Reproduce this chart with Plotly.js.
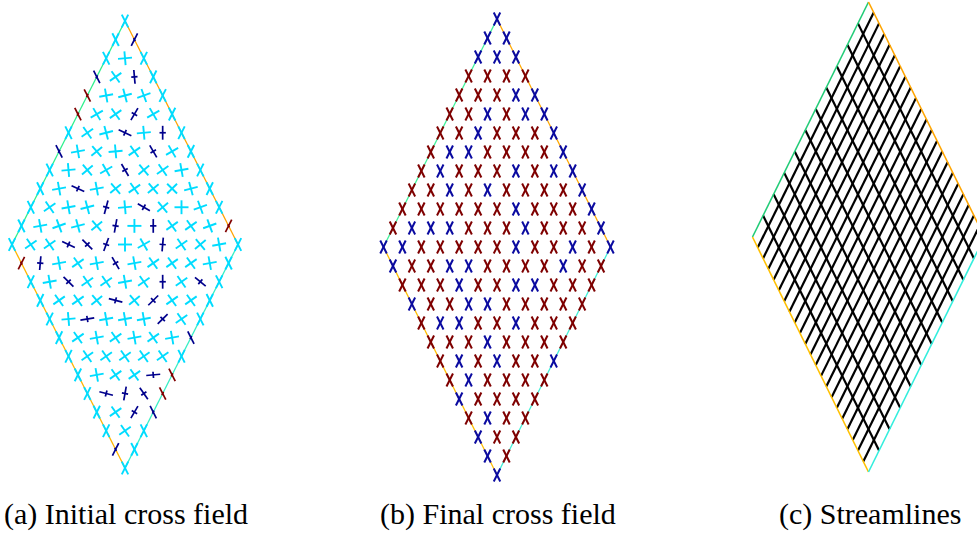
<!DOCTYPE html>
<html><head><meta charset="utf-8">
<script src="https://cdn.plot.ly/plotly-3.0.1.min.js"></script>
<style>html,body{margin:0;padding:0;background:#fff}#chart{width:977px;height:533px}</style>
</head><body><div id="chart"></div>
<script>
// ---------------- DATA ----------------
// Cross-field mesh: 13 x 13 vertices on the rhombus, listed row by row (top to bottom, left to right)
const meshDivisions = 12;
// (a) initial cross field: colour class per vertex (c = cyan, b = dark blue, r = dark red)
const initialColourRows = [
  "c","cb","ccc","bcbc","rcccc","rccbcc","cccbcbc","bccccbcc","ccccbcccc",
  "ccbccccccc","ccccbcbcccc","cccccbcbcccr","cccbbbccbcccc","rbcccbcccccc",
  "ccbccccbcbc","ccccbcbccc","ccbcccbcc","cccccccb","ccccccc","ccccbr",
  "cbbbr","ccbb","ccc","bc","c"
];
// (a) orientation (degrees) of interior crosses, rows 2..22 (interior vertices only)
const initialAngleRows = [
  [5],
  [35,95],
  [10,15,20],
  [30,35,60,30],
  [35,15,-25,5,90],
  [10,40,5,35,-60,30],
  [5,40,30,-60,40,35,10],
  [10,-25,10,40,35,40,45,15],
  [35,10,15,75,5,-30,40,0,20],
  [10,20,15,40,80,0,90,35,35,20],
  [35,35,-25,-45,70,0,30,85,35,40,10],
  [85,10,35,10,-60,10,35,35,35,10],
  [10,-45,35,35,10,35,90,35,-40],
  [35,35,40,-15,40,45,35,35],
  [5,10,10,10,10,45,35],
  [35,10,35,10,35,10],
  [35,35,35,35,35],
  [10,35,35,5],
  [-15,80,-55],
  [35,60],
  [35]
];
// (b) final cross field: colour class per vertex (r = dark red, b = blue)
const finalColourRows = [
  "b","bb","bbb","rrrr","rrrbb","rrbrbb","rrbrrrb","rbbrrrrb","rbrrrbrbb",
  "rrbrbrrrrb","rrrrrrbrrrb","rbbbrrrbrrrb","bbrrrrrbrrbrb","brrbbrrrrbrr",
  "rrrbrrbbrrr","brrbbrrrrr","rbbrrbrrr","rrrbrrrr","rbrbrrb","rbrrrr",
  "brrrr","rbrr","brr","br","b"
];
// (c) streamline seeds: fraction along the upper-right edge ("/" family) and upper-left edge ("\" family)
const seedsSlash = [0.045,0.091,0.136,0.182,0.227,0.273,0.318,0.364,0.409,0.455,0.5,
                    0.545,0.591,0.636,0.682,0.727,0.773,0.818,0.864,0.909,0.955];
const seedsBackslash = [0.091,0.182,0.273,0.364,0.455,0.545,0.636,0.727,0.818,0.909];
const captions = ["(a) Initial cross field","(b) Final cross field","(c) Streamlines"];

// ---------------- STYLE / LAYOUT ----------------
const W = 977, H = 533;
const placement = [
  {cx:125,   cy:244.5, sx:226, sy:223.5},
  {cx:497,   cy:247,   sx:227, sy:228},
  {cx:868.5, cy:237,   sx:232, sy:235}
];
const captionX = [126, 498, 870];
const edgeColours = [
  {tl:"#2ef08c", tr:"#ffa200", bl:"#ffb400", br:"#38eec4"},
  {tl:"#3ef29a", tr:"#ffa800", bl:"#ffbe00", br:"#40efd6"},
  {tl:"#22cc77", tr:"#ffa500", bl:"#ffc000", br:"#33eedd"}
];
const crossColour = {c:"#00dcff", b:"#00008c", r:"#800000"};
const finalColour = {r:"#7f0000", b:"#0a0aa0"};

// rhombus vertices (data units)
const T=[0,1], Lv=[-0.5,0], Rv=[0.5,0], Bv=[0,-1];
const n1 = norm([0.5,1]), n2 = norm([0.5,-1]); // "/" and "\" edge directions
function norm(v){const l=Math.hypot(v[0],v[1]);return [v[0]/l,v[1]/l];}
function vertex(r,k){
  let i,j;
  if(r<=meshDivisions){ i=r-k; j=k; } else { i=meshDivisions-k; j=r-meshDivisions+k; }
  const D=meshDivisions;
  return {i, j, x:0.5*(j-i)/D, y:1-(i+j)/D};
}
function seg(acc,p,d,h){
  acc.x.push(p[0]-d[0]*h,p[0]+d[0]*h,null);
  acc.y.push(p[1]-d[1]*h,p[1]+d[1]*h,null);
}
function dirDeg(a){const t=a*Math.PI/180;return [Math.cos(t),Math.sin(t)];}

const traces=[];
function edgeTraces(p,col){
  const ax = p===0?"":String(p+1);
  const e=[[T,Lv,col.tl],[T,Rv,col.tr],[Lv,Bv,col.bl],[Rv,Bv,col.br]];
  e.forEach(([a,b,c])=>traces.push({type:"scatter",mode:"lines",x:[a[0],b[0]],y:[a[1],b[1]],
    line:{color:c,width:p===2?1.6:1.3},xaxis:"x"+ax,yaxis:"y"+ax,hoverinfo:"skip"}));
}

// ---- panel (a)
edgeTraces(0,edgeColours[0]);
const accA={c:{x:[],y:[]},b:{x:[],y:[]},r:{x:[],y:[]}};
const hA=0.031, hX=0.032;
initialColourRows.forEach((row,r)=>{
  for(let k=0;k<row.length;k++){
    const v=vertex(r,k), p=[v.x,v.y], c=row[k], acc=accA[c];
    const D=meshDivisions;
    const onSlashEdge = (v.j===0||v.j===D), onBackEdge=(v.i===0||v.i===D);
    if(onSlashEdge||onBackEdge){
      if(c==="c" || (onSlashEdge&&onBackEdge)){ seg(acc,p,n1,hX); seg(acc,p,n2,hX); }
      else if(onSlashEdge){ seg(acc,p,n2,hA); seg(acc,p,n1,0.008); }
      else { seg(acc,p,n1,hA); seg(acc,p,n2,0.008); }
    } else {
      const a=initialAngleRows[r-2][k-1];
      seg(acc,p,dirDeg(a),hA);
      seg(acc,p,dirDeg(a+90), c==="c"?hA:hA*0.45);
    }
  }
});
["c","b","r"].forEach(c=>traces.push({type:"scatter",mode:"lines",x:accA[c].x,y:accA[c].y,
  line:{color:crossColour[c],width:c==="c"?1.9:1.7},xaxis:"x",yaxis:"y",hoverinfo:"skip"}));

// ---- panel (b)
edgeTraces(1,edgeColours[1]);
const accB={r:{x:[],y:[]},b:{x:[],y:[]}};
finalColourRows.forEach((row,r)=>{
  for(let k=0;k<row.length;k++){
    const v=vertex(r,k), p=[v.x,v.y], acc=accB[row[k]];
    seg(acc,p,n1,hX); seg(acc,p,n2,hX);
  }
});
["r","b"].forEach(c=>traces.push({type:"scatter",mode:"lines",x:accB[c].x,y:accB[c].y,
  line:{color:finalColour[c],width:2},xaxis:"x2",yaxis:"y2",hoverinfo:"skip"}));

// ---- panel (c)
const sl={x:[],y:[]};
function lerp(a,b,t){return [a[0]+(b[0]-a[0])*t,a[1]+(b[1]-a[1])*t];}
seedsSlash.forEach(t=>{const a=lerp(T,Rv,t),b=lerp(Lv,Bv,t);sl.x.push(a[0],b[0],null);sl.y.push(a[1],b[1],null);});
seedsBackslash.forEach(t=>{const a=lerp(T,Lv,t),b=lerp(Rv,Bv,t);sl.x.push(a[0],b[0],null);sl.y.push(a[1],b[1],null);});
traces.push({type:"scatter",mode:"lines",x:sl.x,y:sl.y,line:{color:"#000",width:2.2},xaxis:"x3",yaxis:"y3",hoverinfo:"skip"});
edgeTraces(2,edgeColours[2]);

// ---- layout
const layout={width:W,height:H,margin:{l:0,r:0,t:0,b:0},showlegend:false,
  paper_bgcolor:"#fff",plot_bgcolor:"rgba(0,0,0,0)",hovermode:false,annotations:[]};
placement.forEach((pl,idx)=>{
  const s=idx===0?"":String(idx+1);
  layout["xaxis"+s]={domain:[0,1],range:[-pl.cx/pl.sx,(W-pl.cx)/pl.sx],visible:false,fixedrange:true,
    anchor:"y"+s};
  layout["yaxis"+s]={domain:[0,1],range:[-(H-pl.cy)/pl.sy,pl.cy/pl.sy],visible:false,fixedrange:true,
    anchor:"x"+s};
});
captions.forEach((t,i)=>layout.annotations.push({text:t,xref:"paper",yref:"paper",
  x:captionX[i]/W,y:1-514/H,xanchor:"center",yanchor:"middle",showarrow:false,borderpad:0,
  font:{family:"Liberation Serif, serif",size:30,color:"#000"}}));

Plotly.newPlot("chart",traces,layout,{staticPlot:true,displayModeBar:false});
</script></body></html>
